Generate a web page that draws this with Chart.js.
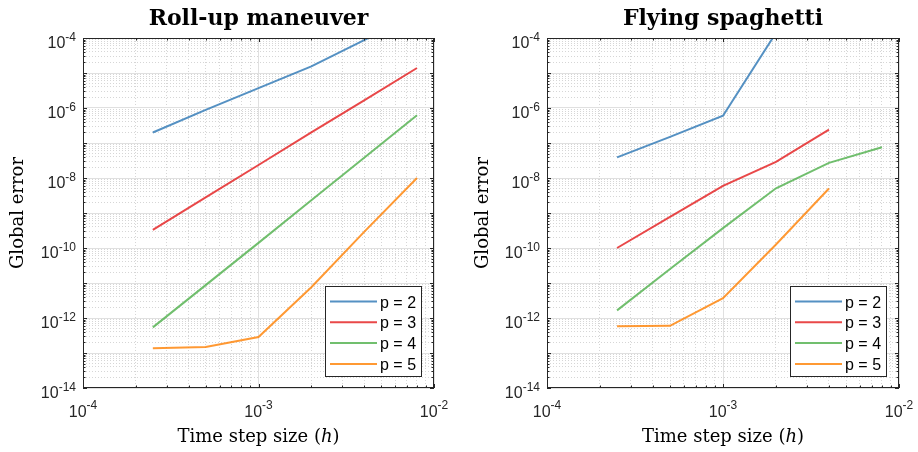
<!DOCTYPE html>
<html>
<head>
<meta charset="utf-8">
<script src="https://cdn.jsdelivr.net/npm/chart.js@4.4.1/dist/chart.umd.min.js"></script>
<style>
  html, body { margin: 0; padding: 0; background: #fff; }
  .panel { position: absolute; top: 0; width: 459px; height: 452px; }
</style>
</head>
<body>
<div class="panel" style="left:0"><canvas id="rollup" width="459" height="452"></canvas></div>
<div class="panel" style="left:459px"><canvas id="spaghetti" width="459" height="452"></canvas></div>
<script>
// step sizes h (shared by both panels)
const stepSizes = [2.5e-4, 5e-4, 1e-3, 2e-3, 4e-3, 8e-3];
const orderLabels = ['p = 2', 'p = 3', 'p = 4', 'p = 5'];
const lineColors = ['rgba(55,126,184,0.85)', 'rgba(228,26,28,0.8)', 'rgba(77,175,74,0.8)', 'rgba(255,127,0,0.8)'];

// Roll-up maneuver
const rollupP2 = [2.0e-7, 8.8e-7, 3.7e-6, 1.55e-5, 8.7e-5, 4.9e-4];
const rollupP3 = [3.3e-10, 2.8e-9, 2.35e-8, 2.0e-7, 1.66e-6, 1.39e-5];
const rollupP4 = [5.4e-13, 8.7e-12, 1.4e-10, 2.3e-9, 3.8e-8, 6.2e-7];
const rollupP5 = [1.36e-13, 1.48e-13, 2.85e-13, 7.6e-12, 2.9e-10, 1.0e-8];

// Flying spaghetti
const spaghettiP2 = [3.9e-8, 1.5e-7, 6.0e-7, 1.4e-4];
const spaghettiP3 = [1.0e-10, 7.8e-10, 6.0e-9, 2.9e-8, 2.4e-7];
const spaghettiP4 = [1.65e-12, 2.5e-11, 3.7e-10, 5.1e-9, 2.7e-8, 7.6e-8];
const spaghettiP5 = [5.8e-13, 6.0e-13, 3.7e-12, 1.26e-10, 5.0e-9];

// axis ranges and labelled decades
const xExpRange = [-4, -2];
const yExpRange = [-14, -4];
const xTickExps = [-4, -3, -2];
const yTickExps = [-14, -12, -10, -8, -6, -4];

const SANS = '"Liberation Sans", Arial, sans-serif';
const SERIF = '"DejaVu Serif", serif';

function logGrid(lo, hi) {
  const out = [];
  for (let e = lo; e < hi; e++) {
    for (let m = 1; m <= 9; m++) out.push({ value: m * Math.pow(10, e), major: m === 1 });
  }
  out.push({ value: Math.pow(10, hi), major: true });
  return out;
}

function powerLabel(ctx, x, y, exp, mode) {
  ctx.font = '16px ' + SANS;
  const wBase = ctx.measureText('10').width;
  ctx.font = '12px ' + SANS;
  const expText = String(exp);
  const wExp = ctx.measureText(expText).width;
  let left, baseLine, expLine;
  if (mode === 'y') {
    left = x - wBase - wExp;
    baseLine = y + 10;
    expLine = y + 3;
  } else {
    left = x - (wBase + wExp) / 2;
    baseLine = y + 29;
    expLine = y + 20.5;
  }
  ctx.textAlign = 'left';
  ctx.textBaseline = 'alphabetic';
  ctx.font = '16px ' + SANS;
  ctx.fillText('10', left, baseLine);
  ctx.font = '12px ' + SANS;
  ctx.fillText(expText, left + wBase, expLine);
}

const axesDecor = {
  id: 'axesDecor',
  afterDatasetsDraw(chart, args, opts) {
    const { ctx, chartArea: a, scales: { x, y } } = chart;
    ctx.save();
    ctx.strokeStyle = '#262626';
    ctx.lineWidth = 1;
    ctx.strokeRect(a.left + 0.5, a.top + 0.5, a.right - a.left - 1, a.bottom - a.top - 1);

    // inward tick marks on all four sides
    ctx.beginPath();
    x.ticks.forEach(t => {
      const px = Math.round(x.getPixelForValue(t.value)) + 0.5;
      const len = t.major ? 4 : 2.5;
      ctx.moveTo(px, a.bottom); ctx.lineTo(px, a.bottom - len);
      ctx.moveTo(px, a.top); ctx.lineTo(px, a.top + len);
    });
    y.ticks.forEach(t => {
      const py = Math.round(y.getPixelForValue(t.value)) + 0.5;
      const len = t.major ? 4 : 2.5;
      ctx.moveTo(a.left, py); ctx.lineTo(a.left + len, py);
      ctx.moveTo(a.right, py); ctx.lineTo(a.right - len, py);
    });
    ctx.stroke();

    // tick labels 10^k
    ctx.fillStyle = '#262626';
    yTickExps.forEach(e => powerLabel(ctx, a.left - 7, y.getPixelForValue(Math.pow(10, e)), e, 'y'));
    xTickExps.forEach(e => powerLabel(ctx, x.getPixelForValue(Math.pow(10, e)), a.bottom, e, 'x'));

    const cx = (a.left + a.right) / 2;
    const cy = (a.top + a.bottom) / 2;

    // title
    ctx.fillStyle = '#000';
    ctx.font = 'bold 22px ' + SERIF;
    ctx.textAlign = 'center';
    ctx.textBaseline = 'alphabetic';
    ctx.fillText(opts.title, cx, a.top - 13);

    // x axis title with italic h
    const parts = [['Time step size (', '18px '], ['h', 'italic 18px '], [')', '18px ']];
    let total = 0;
    parts.forEach(p => { ctx.font = p[1] + SERIF; total += ctx.measureText(p[0]).width; });
    let px = cx - total / 2;
    ctx.textAlign = 'left';
    parts.forEach(p => {
      ctx.font = p[1] + SERIF;
      ctx.fillText(p[0], px, a.bottom + 54);
      px += ctx.measureText(p[0]).width;
    });

    // y axis title
    ctx.save();
    ctx.translate(a.left - opts.yTitleGap, cy);
    ctx.rotate(-Math.PI / 2);
    ctx.font = '18px ' + SERIF;
    ctx.textAlign = 'center';
    ctx.fillText('Global error', 0, 0);
    ctx.restore();

    // legend box, bottom right inside the axes
    const bw = 96, bh = 90;
    const bx = a.right - 13 - bw, by = a.bottom - 12 - bh;
    ctx.fillStyle = '#fff';
    ctx.fillRect(bx, by, bw, bh);
    ctx.strokeStyle = '#262626';
    ctx.lineWidth = 1;
    ctx.strokeRect(bx + 0.5, by + 0.5, bw, bh);
    chart.data.datasets.forEach((ds, i) => {
      const ly = by + 15.5 + i * 20.8;
      ctx.strokeStyle = ds.borderColor;
      ctx.lineWidth = 2;
      ctx.beginPath();
      ctx.moveTo(bx + 5, ly);
      ctx.lineTo(bx + 52, ly);
      ctx.stroke();
      ctx.fillStyle = '#000';
      ctx.font = '16px ' + SANS;
      ctx.textAlign = 'left';
      ctx.fillText(ds.label, bx + 55, ly + 6);
    });
    ctx.restore();
  }
};

function logAxis(range) {
  return {
    type: 'logarithmic',
    min: Math.pow(10, range[0]),
    max: Math.pow(10, range[1]),
    afterBuildTicks: s => { s.ticks = logGrid(range[0], range[1]); },
    ticks: { display: false },
    grid: {
      drawTicks: false,
      lineWidth: 1,
      color: c => (c.tick && c.tick.major) ? '#e0e0e0' : '#d6d6d6'
    },
    border: {
      display: false,
      dash: c => (c.tick && c.tick.major) ? [] : [1, 2]
    }
  };
}

function makeChart(id, title, series, padding, yTitleGap) {
  return new Chart(document.getElementById(id), {
    type: 'line',
    data: {
      datasets: series.map((vals, i) => ({
        label: orderLabels[i],
        data: vals.map((v, j) => ({ x: stepSizes[j], y: v })),
        borderColor: lineColors[i],
        borderWidth: 2,
        pointRadius: 0,
        fill: false,
        tension: 0
      }))
    },
    options: {
      responsive: false,
      animation: false,
      devicePixelRatio: 1,
      layout: { padding },
      scales: { x: logAxis(xExpRange), y: logAxis(yExpRange) },
      plugins: {
        legend: { display: false },
        tooltip: { enabled: false },
        axesDecor: { title, yTitleGap }
      }
    },
    plugins: [axesDecor]
  });
}

makeChart('rollup', 'Roll-up maneuver', [rollupP2, rollupP3, rollupP4, rollupP5],
  { left: 83, right: 25, top: 38, bottom: 64 }, 60);
makeChart('spaghetti', 'Flying spaghetti', [spaghettiP2, spaghettiP3, spaghettiP4, spaghettiP5],
  { left: 88, right: 19, top: 38, bottom: 64 }, 59);
</script>
</body>
</html>
